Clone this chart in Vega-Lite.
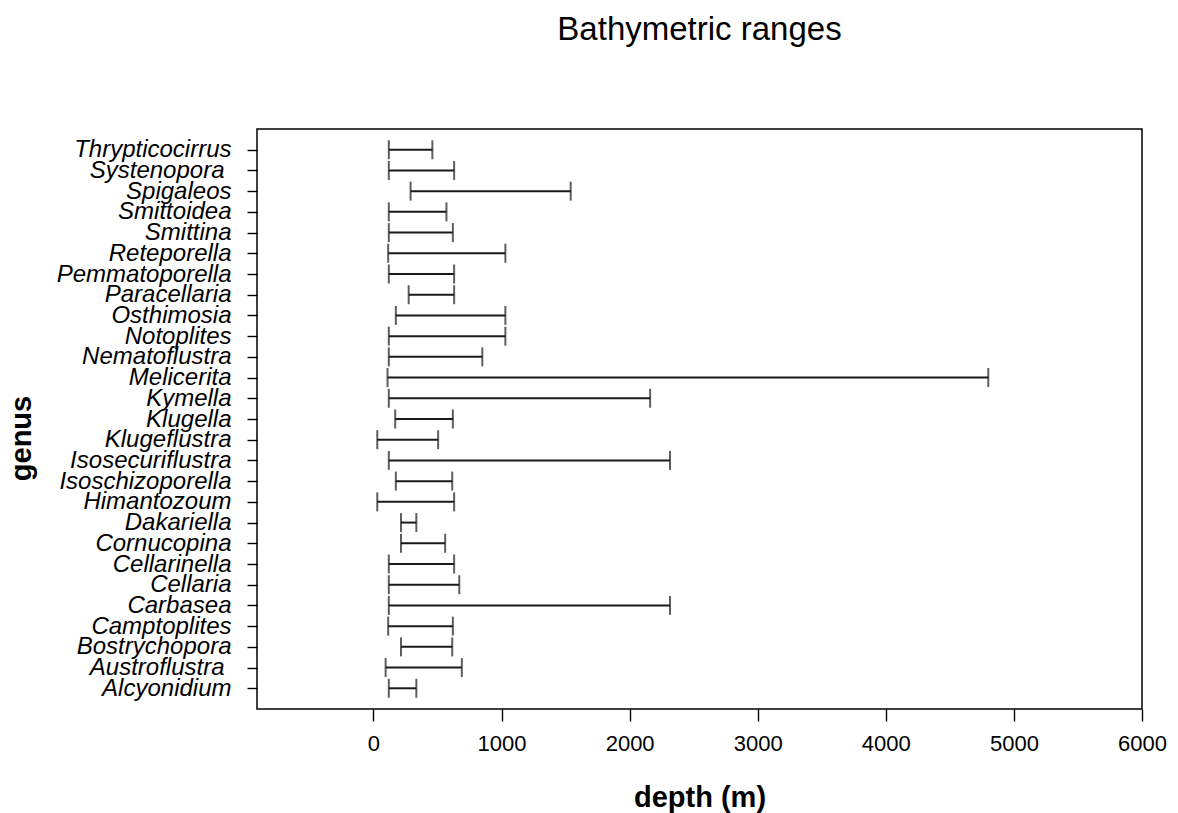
{
  "$schema": "https://vega.github.io/schema/vega-lite/v6.json",
  "autosize": "none",
  "width": 885,
  "height": 580,
  "padding": {"left": 257, "top": 129, "right": 36, "bottom": 104},
  "background": "white",
  "title": {
    "text": "Bathymetric ranges",
    "font": "Liberation Sans",
    "fontSize": 33,
    "fontWeight": "normal",
    "color": "black",
    "anchor": "middle",
    "baseline": "alphabetic",
    "offset": 56
  },
  "config": {
    "view": {"stroke": "black", "strokeWidth": 1.5},
    "axis": {
      "grid": false,
      "domain": false,
      "tickColor": "black",
      "tickWidth": 1.4,
      "labelColor": "black",
      "titleColor": "black",
      "labelFont": "Liberation Sans",
      "titleFont": "Liberation Sans"
    }
  },
  "data": {
    "values": [
      {"genus": "Thrypticocirrus", "min": 120, "max": 460},
      {"genus": "Systenopora", "min": 120, "max": 630},
      {"genus": "Spigaleos", "min": 290, "max": 1540},
      {"genus": "Smittoidea", "min": 120, "max": 570},
      {"genus": "Smittina", "min": 120, "max": 620},
      {"genus": "Reteporella", "min": 115, "max": 1030},
      {"genus": "Pemmatoporella", "min": 120, "max": 630},
      {"genus": "Paracellaria", "min": 275, "max": 630},
      {"genus": "Osthimosia", "min": 175, "max": 1030},
      {"genus": "Notoplites", "min": 120, "max": 1030},
      {"genus": "Nematoflustra", "min": 120, "max": 850},
      {"genus": "Melicerita", "min": 110, "max": 4800},
      {"genus": "Kymella", "min": 120, "max": 2160},
      {"genus": "Klugella", "min": 170, "max": 620},
      {"genus": "Klugeflustra", "min": 30, "max": 505},
      {"genus": "Isosecuriflustra", "min": 120, "max": 2315},
      {"genus": "Isoschizoporella", "min": 175, "max": 615},
      {"genus": "Himantozoum", "min": 30, "max": 630},
      {"genus": "Dakariella", "min": 215, "max": 335},
      {"genus": "Cornucopina", "min": 215, "max": 560},
      {"genus": "Cellarinella", "min": 120, "max": 630},
      {"genus": "Cellaria", "min": 120, "max": 670},
      {"genus": "Carbasea", "min": 120, "max": 2315},
      {"genus": "Camptoplites", "min": 115, "max": 620},
      {"genus": "Bostrychopora", "min": 215, "max": 615},
      {"genus": "Austroflustra", "min": 95, "max": 690},
      {"genus": "Alcyonidium", "min": 120, "max": 335}
    ]
  },
  "encoding": {
    "y": {
      "field": "genus",
      "type": "nominal",
      "sort": null,
      "scale": {"type": "point", "padding": 1.04},
      "axis": {
        "title": "genus",
        "titleFontSize": 29,
        "titleFontWeight": "bold",
        "titleAngle": -90,
        "titleAlign": "center",
        "titleBaseline": "middle",
        "titleX": -236,
        "titleY": 309,
        "labelFontSize": 24,
        "labelFontStyle": "italic",
        "labelPadding": {"condition": {"test": "datum.value == 'Systenopora' || datum.value == 'Austroflustra'", "value": 23}, "value": 16},
        "tickSize": 10
      }
    }
  },
  "layer": [
    {
      "mark": {"type": "rule", "color": "#1a1a1a", "strokeWidth": 2},
      "encoding": {
        "x": {
          "field": "min",
          "type": "quantitative",
          "scale": {"domain": [-909, 6000], "nice": false, "zero": false},
          "axis": {
            "title": "depth (m)",
            "titleFontSize": 29,
            "titleFontWeight": "bold",
            "titleBaseline": "middle",
            "titleY": 88,
            "values": [0, 1000, 2000, 3000, 4000, 5000, 6000],
            "format": "d",
            "labelFontSize": 22,
            "labelPadding": 12,
            "tickSize": 12,
            "labelFlush": false,
            "labelOverlap": false
          }
        },
        "x2": {"field": "max"}
      }
    },
    {
      "mark": {"type": "tick", "orient": "vertical", "color": "#1a1a1a", "size": 19, "thickness": 2},
      "encoding": {"x": {"field": "min", "type": "quantitative"}}
    },
    {
      "mark": {"type": "tick", "orient": "vertical", "color": "#1a1a1a", "size": 19, "thickness": 2},
      "encoding": {"x": {"field": "max", "type": "quantitative"}}
    }
  ]
}
